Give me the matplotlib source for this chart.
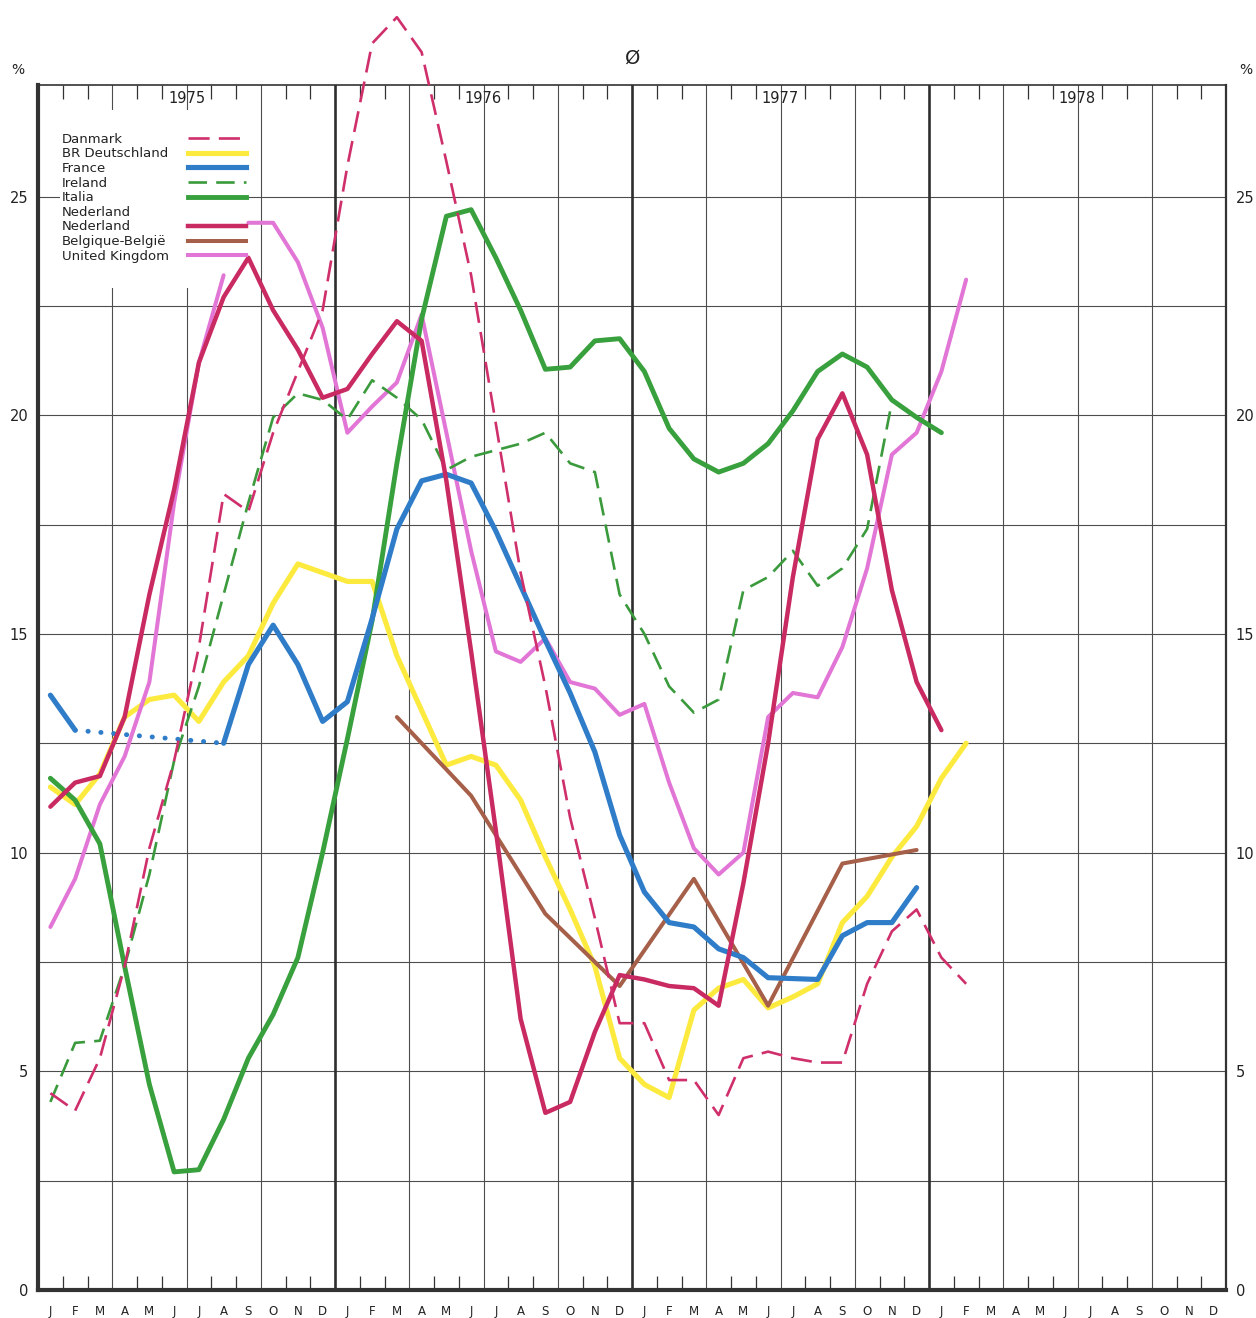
import numpy as np
import matplotlib
matplotlib.use('Agg')
import matplotlib.pyplot as plt
from matplotlib.lines import Line2D
from matplotlib.patches import Rectangle

nan = np.nan

# ---------------- data (month index 0 = January 1975) ----------------
month_letters = ['J', 'F', 'M', 'A', 'M', 'J', 'J', 'A', 'S', 'O', 'N', 'D']
year_labels = ['1975', '1976', '1977', '1978']

danmark = [4.5, 4.1, 5.3, 7.4, 10.1, 12.1, 14.7, 18.2, 17.8, 19.6, 21.0, 22.4,
           25.7, 28.5, 29.1, 28.3, 25.8, 23.2, 19.8, 16.4, 13.8, 10.8, 8.5, 6.1,
           6.1, 4.8, 4.8, 4.0, 5.3, 5.45, 5.3, 5.2, 5.2, 7.0, 8.2, 8.7,
           7.6, 7.0]

deutschland = [11.5, 11.1, 11.8, 13.1, 13.5, 13.6, 13.0, 13.9, 14.5, 15.7, 16.6, 16.4,
               16.2, 16.2, 14.5, 13.25, 12.0, 12.2, 12.0, 11.2, 9.9, 8.7, 7.4, 5.3,
               4.7, 4.4, 6.4, 6.9, 7.1, 6.45, 6.7, 7.0, 8.4, 9.0, 9.9, 10.6,
               11.7, 12.5]

# France: Mar-Jul 1975 not available (dotted estimate between Feb and Aug)
france = [13.6, 12.8, nan, nan, nan, nan, nan, 12.5, 14.3, 15.2, 14.3, 13.0,
          13.45, 15.35, 17.4, 18.5, 18.65, 18.45, 17.35, 16.1, 14.85, 13.65, 12.3, 10.4,
          9.1, 8.4, 8.3, 7.8, 7.6, 7.14, 7.12, 7.1, 8.1, 8.4, 8.4, 9.2]
france_dotted_months = [1, 7]

ireland = [4.3, 5.65, 5.7, 7.4, 9.5, 12.1, 13.8, 15.9, 18.0, 19.95, 20.5, 20.35,
           19.9, 20.8, 20.4, 19.9, 18.75, 19.05, 19.2, 19.35, 19.6, 18.9, 18.7, 15.9,
           15.0, 13.8, 13.2, 13.5, 16.0, 16.3, 16.9, 16.1, 16.5, 17.4, 20.3]

italia = [11.7, 11.2, 10.2, 7.4, 4.7, 2.7, 2.75, 3.9, 5.3, 6.3, 7.6, 10.0,
          12.6, 15.3, 18.9, 22.2, 24.55, 24.7, 23.6, 22.4, 21.05, 21.1, 21.7, 21.75,
          21.0, 19.7, 19.0, 18.7, 18.9, 19.35, 20.1, 21.0, 21.4, 21.1, 20.35, 19.95,
          19.6]

nederland = [11.05, 11.6, 11.75, 13.1, 15.9, 18.3, 21.2, 22.7, 23.6, 22.4, 21.5, 20.4,
             20.6, 21.4, 22.15, 21.7, 18.5, 14.6, 10.5, 6.2, 4.05, 4.3, 5.9, 7.2,
             7.1, 6.95, 6.9, 6.5, 9.3, 12.5, 16.3, 19.45, 20.5, 19.1, 16.0, 13.9,
             12.8]

# Belgique-België: quarterly values (Mar 1976 ... Dec 1977)
belgique_months = [14, 17, 20, 23, 26, 29, 32, 35]
belgique = [13.1, 11.3, 8.6, 6.95, 9.4, 6.5, 9.75, 10.06]

# United Kingdom: line interrupted between Aug and Sep 1975
uk = [8.3, 9.4, 11.1, 12.2, 13.9, 18.0, 21.2, 23.2, 24.4, 24.4, 23.5, 22.0,
      19.6, 20.2, 20.75, 22.3, 19.6, 16.9, 14.6, 14.36, 14.9, 13.9, 13.75, 13.15,
      13.4, 11.6, 10.1, 9.5, 10.0, 13.1, 13.65, 13.55, 14.7, 16.5, 19.1, 19.6,
      21.0, 23.1]
uk_break = 8

legend_labels = ['Danmark', 'BR Deutschland', 'France', 'Ireland', 'Italia',
                 'Nederland', 'Nederland', 'Belgique-België', 'United Kingdom']

# ---------------- styles ----------------
C_DK = '#cf2f6b'
C_DE = '#fdea3f'
C_FR = '#2f7cc9'
C_IE = '#3a9a3c'
C_IT = '#38a03c'
C_NL = '#c92a62'
C_BE = '#a65f48'
C_UK = '#e276d6'
GRID = '#4d4d4d'
AXC = '#333333'
TXT = '#222222'

W, H = 1256, 1318
fig = plt.figure(figsize=(W / 100, H / 100), dpi=100)
ax = fig.add_axes([38 / W, 28 / H, 1188 / W, 1205 / H])
ax.set_xlim(0, 48)
ax.set_ylim(0, 27.55)


def xs(n, start=0):
    return np.arange(start, start + n) + 0.5


# grid
for y in np.arange(2.5, 27.5, 2.5):
    ax.axhline(y, color=GRID, lw=0.8, zorder=1)
for m in range(3, 48, 3):
    ax.axvline(m, color='#2e2e2e' if m % 12 == 0 else GRID,
               lw=1.9 if m % 12 == 0 else 0.8, zorder=1)

# white legend background hiding grid
ax.add_patch(Rectangle((0.0185, 0.8315), 0.1583, 0.1475, transform=ax.transAxes,
                       facecolor='white', edgecolor='none', zorder=1.5))

common = dict(solid_joinstyle='round', solid_capstyle='round', dash_joinstyle='round')

ax.plot(xs(len(deutschland)), deutschland, color=C_DE, lw=3.7, zorder=2, **common)
ax.plot(xs(len(uk))[:uk_break], uk[:uk_break], color=C_UK, lw=2.9, zorder=2.2, **common)
ax.plot(xs(len(uk))[uk_break:], uk[uk_break:], color=C_UK, lw=2.9, zorder=2.2, **common)
ax.plot(np.array(belgique_months) + 0.5, belgique, color=C_BE, lw=2.9, zorder=2.3, **common)
ax.plot(xs(len(ireland)), ireland, color=C_IE, lw=1.9, dashes=(7, 3.5), zorder=2.4,
        dash_capstyle='butt')
ax.plot(xs(len(italia)), italia, color=C_IT, lw=3.5, zorder=2.5, **common)
ax.plot(xs(len(france)), france, color=C_FR, lw=3.7, zorder=2.6, **common)
ax.plot(np.array(france_dotted_months) + 0.5,
        [france[i] for i in france_dotted_months], color=C_FR, lw=3.5,
        linestyle=(0, (0.05, 2.6)), dash_capstyle='round', zorder=2.6)
ax.plot(xs(len(nederland)), nederland, color=C_NL, lw=3.2, zorder=2.7, **common)
ax.plot(xs(len(danmark)), danmark, color=C_DK, lw=1.9, dashes=(8, 3.5), zorder=2.8,
        clip_on=False, dash_capstyle='butt')

# axes frame
for side, lw in [('left', 3.0), ('bottom', 3.0), ('top', 1.2), ('right', 1.6)]:
    ax.spines[side].set_linewidth(lw)
    ax.spines[side].set_color(AXC)
ax.spines['left'].set_zorder(5)
ax.spines['bottom'].set_zorder(5)

# x ticks
ax.set_xticks(xs(48))
ax.set_xticklabels(month_letters * 4, fontsize=8.5, color=TXT)
ax.set_xticks([m for m in range(1, 48) if m % 3 != 0], minor=True)
ax.tick_params(axis='x', which='major', length=0, pad=11)
ax.tick_params(axis='x', which='minor', direction='in', length=10, width=0.9,
               color=AXC, top=True, bottom=True)

# y ticks
ax.set_yticks([0, 5, 10, 15, 20, 25])
ax.set_yticklabels(['0', '5', '10', '15', '20', '25'])
ax.tick_params(axis='y', which='both', length=0, labelsize=10.5, labelleft=True,
               labelright=True, pad=7, labelcolor=TXT)

# year labels
for i, yl in enumerate(year_labels):
    ax.text(6 + 12 * i, 0.9892, yl, transform=ax.get_xaxis_transform(),
            ha='center', va='center', fontsize=10.5, color=TXT, zorder=3)

fig.text(18 / W, 1 - 70 / H, '%', ha='center', va='center', fontsize=10, color=TXT)
fig.text(1246 / W, 1 - 70 / H, '%', ha='center', va='center', fontsize=10, color=TXT)
fig.text(633 / W, 1 - 58 / H, 'Ø', ha='center', va='center', fontsize=14, color=TXT)

# legend: left column of labels, right column of line samples
handles = [
    Line2D([], [], color=C_DK, lw=1.9, dashes=(8, 3.5)),
    Line2D([], [], color=C_DE, lw=3.7),
    Line2D([], [], color=C_FR, lw=3.7),
    Line2D([], [], color=C_IE, lw=1.9, dashes=(7, 3.5)),
    Line2D([], [], color=C_IT, lw=3.5),
    Line2D([], [], color='none', lw=0),
    Line2D([], [], color=C_NL, lw=3.2),
    Line2D([], [], color=C_BE, lw=2.9),
    Line2D([], [], color=C_UK, lw=2.9),
]
leg_kw = dict(loc='upper left', frameon=False, fontsize=9.5, labelspacing=0.125,
              borderpad=0, borderaxespad=0, handleheight=0.6)
blank = [Line2D([], [], color='none', lw=0) for _ in legend_labels]
leg_text = ax.legend(blank, legend_labels, bbox_to_anchor=(0.0202, 0.9605),
                     handlelength=0, handletextpad=0, **leg_kw)
leg_text.set_zorder(6)
for t in leg_text.get_texts():
    t.set_color(TXT)
ax.add_artist(leg_text)
leg_lines = ax.legend(handles, [''] * len(handles), bbox_to_anchor=(0.1263, 0.9605),
                      handlelength=4.4, handletextpad=0, **leg_kw)
leg_lines.set_zorder(6)

fig.savefig('out.png', dpi=100, facecolor='white')
